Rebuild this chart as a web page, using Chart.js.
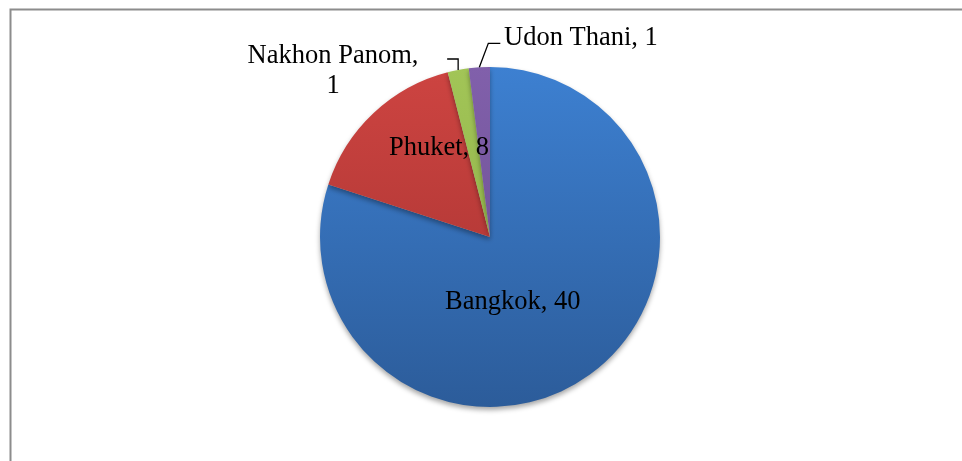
<!DOCTYPE html>
<html>
<head>
<meta charset="utf-8">
<script src="https://cdn.jsdelivr.net/npm/chart.js@4/dist/chart.umd.min.js"></script>
<style>
  html, body { margin: 0; padding: 0; background: #fff; }
  #wrap { width: 962px; height: 461px; position: relative; }
</style>
</head>
<body>
<div id="wrap"><canvas id="pie-chart"></canvas></div>
<script>
// Chart data
const cities = ['Bangkok', 'Phuket', 'Nakhon Panom', 'Udon Thani'];
const counts = [40, 8, 1, 1];

// gradient colours per slice (top, bottom)
const topColors = ['#3d80d1', '#cd4441', '#a2c557', '#8160ab'];
const bottomColors = ['#2c5c9a', '#a3312f', '#88aa44', '#664a8c'];

// label placement relative to pie centre (px), text lines, optional leader
const labelSpots = [
  { dx: -45, dy: 72, align: 'left', lines: ['Bangkok, 40'] },
  { dx: -101, dy: -82, align: 'left', lines: ['Phuket, 8'] },
  { dx: -157, dy: -174, align: 'center', lines: ['Nakhon Panom,', '1'], elbow: [0, -11], tail: [-11, -11] },
  { dx: 14, dy: -192, align: 'left', lines: ['Udon Thani, 1'], elbow: [9, -24], tail: [21, -24] }
];

function sliceGradient(ctx) {
  const chart = ctx.chart;
  const area = chart.chartArea;
  if (!area) return topColors[ctx.dataIndex];
  const g = chart.ctx.createLinearGradient(0, area.top, 0, area.bottom);
  g.addColorStop(0, topColors[ctx.dataIndex]);
  g.addColorStop(1, bottomColors[ctx.dataIndex]);
  return g;
}

const framePlugin = {
  id: 'frame',
  beforeDraw(chart) {
    const c = chart.ctx;
    c.save();
    c.strokeStyle = '#8c8c8c';
    c.lineWidth = 2;
    c.strokeRect(10.5, 9.5, 3000, 3000);
    c.restore();
  },
  beforeDatasetsDraw(chart) {
    const c = chart.ctx;
    c.save();
    c.shadowColor = 'rgba(0,0,0,0.35)';
    c.shadowBlur = 5;
    c.shadowOffsetY = 3;
  },
  afterDatasetsDraw(chart) {
    chart.ctx.restore();
  }
};

const labelPlugin = {
  id: 'sliceLabels',
  afterDraw(chart) {
    const c = chart.ctx;
    const arcs = chart.getDatasetMeta(0).data;
    c.save();
    c.font = '26.5px "Liberation Serif", "Times New Roman", serif';
    c.fillStyle = '#000';
    c.textBaseline = 'alphabetic';
    arcs.forEach((arc, i) => {
      const spot = labelSpots[i];
      const cx = arc.x, cy = arc.y;
      c.textAlign = spot.align;
      spot.lines.forEach((line, k) => {
        c.fillText(line, cx + spot.dx, cy + spot.dy + k * 30);
      });
      if (spot.elbow) {
        const mid = (arc.startAngle + arc.endAngle) / 2;
        const ex = cx + Math.cos(mid) * arc.outerRadius;
        const ey = cy + Math.sin(mid) * arc.outerRadius;
        c.strokeStyle = '#000';
        c.lineWidth = 1.3;
        c.beginPath();
        c.moveTo(ex, ey);
        c.lineTo(ex + spot.elbow[0], ey + spot.elbow[1]);
        c.lineTo(ex + spot.tail[0], ey + spot.tail[1]);
        c.stroke();
      }
    });
    c.restore();
  }
};

new Chart(document.getElementById('pie-chart'), {
  type: 'pie',
  data: {
    labels: cities,
    datasets: [{
      data: counts,
      backgroundColor: sliceGradient,
      borderWidth: 0
    }]
  },
  options: {
    responsive: true,
    maintainAspectRatio: false,
    animation: false,
    layout: { padding: { left: 320, right: 302, top: 67, bottom: 54 } },
    plugins: {
      legend: { display: false },
      tooltip: { enabled: false }
    }
  },
  plugins: [framePlugin, labelPlugin]
});
</script>
</body>
</html>
